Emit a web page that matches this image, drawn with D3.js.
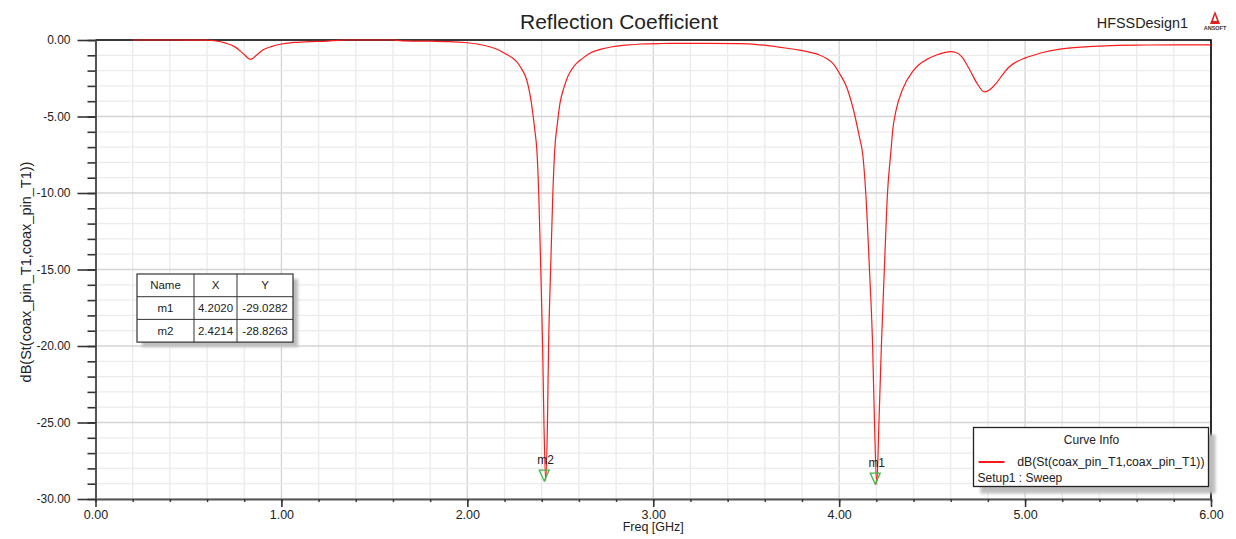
<!DOCTYPE html>
<html>
<head>
<meta charset="utf-8">
<script src="https://cdn.jsdelivr.net/npm/d3@7"></script>
<style>
  body { margin: 0; background: #fff; }
  svg { display: block; font-family: "Liberation Sans", Arial, sans-serif; }
</style>
</head>
<body>
<svg id="Vis" width="1236" height="539"></svg>
<script>
/*
* DATA
*/

// sweep points (GHz, dB)
const freq = [0.20, 0.40, 0.60, 0.64, 0.70, 0.75, 0.80, 0.833, 0.87, 0.90, 0.95, 1.00, 1.07, 1.15, 1.25, 1.30, 1.35,
  1.60, 1.65, 1.80, 1.90, 2.00, 2.06, 2.12, 2.16, 2.20, 2.24, 2.265, 2.29, 2.32, 2.345, 2.363, 2.374, 2.384, 2.395,
  2.405, 2.412, 2.4214, 2.431, 2.437, 2.448, 2.460, 2.470, 2.485, 2.498, 2.52, 2.54, 2.56, 2.587, 2.62, 2.659, 2.72,
  2.78, 2.85, 2.93, 3.05, 3.14, 3.30, 3.45, 3.545, 3.60, 3.66, 3.72, 3.787, 3.85, 3.894, 3.93, 3.966, 4.002, 4.04,
  4.073, 4.109, 4.127, 4.143, 4.163, 4.180, 4.190, 4.2020, 4.214, 4.227, 4.243, 4.260, 4.279, 4.288, 4.306, 4.342,
  4.396, 4.43, 4.467, 4.52, 4.566, 4.60, 4.628, 4.66, 4.70, 4.74, 4.781, 4.81, 4.843, 4.88, 4.915, 4.95, 4.995,
  5.05, 5.112, 5.22, 5.398, 5.596, 5.80, 6.00];

const s11 = [0, 0, -0.01, -0.05, -0.2, -0.45, -0.95, -1.27, -0.95, -0.66, -0.42, -0.26, -0.16, -0.1, -0.07, -0.02, 0,
  0, -0.06, -0.08, -0.1, -0.18, -0.28, -0.44, -0.6, -0.87, -1.15, -1.42, -1.85, -2.63, -4.16, -5.9, -7.2, -10, -15,
  -20, -25, -28.83, -25, -20, -15, -10, -7.2, -5.4, -4.16, -3.1, -2.4, -1.95, -1.53, -1.2, -0.87, -0.6,
  -0.44, -0.34, -0.26, -0.23, -0.22, -0.22, -0.24, -0.28, -0.34, -0.44, -0.54, -0.66, -0.82, -0.98, -1.2, -1.53, -2.19, -3.07,
  -4.38, -6.35, -7.5, -10, -15, -20, -25, -29.03, -25, -20, -15, -10, -7.2, -5.9, -4.6, -3.2,
  -2.05, -1.6, -1.3, -1.0, -0.82, -0.76, -0.82, -1.1, -1.9, -2.8, -3.39, -3.25, -2.85, -2.25, -1.75, -1.45, -1.2,
  -0.98, -0.77, -0.55, -0.4, -0.33, -0.32, -0.32];

const markerNames = ["m1", "m2"];
const markerFreq = [4.2020, 2.4214];
const markerDb = [-29.0282, -28.8263];

const xMajor = [0, 1, 2, 3, 4, 5, 6];
const yMajor = [0, -5, -10, -15, -20, -25, -30];

const tableHead = ["Name", "X", "Y"];
const curveName = "dB(St(coax_pin_T1,coax_pin_T1))";
const sweepName = "Setup1 : Sweep";


/*
* SETUP
*/

const svg = d3.select("svg#Vis");
const font = 12;

const x = d3.scaleLinear().domain([0, 6]).range([95.5, 1211]);
const y = d3.scaleLinear().domain([0, -30]).range([40, 499]);

// plain hyphen minus like the original plot
const fmt = d => d.toFixed(2);
const fmt4 = d => d.toFixed(4);

const defs = svg.append("defs");
defs.append("filter").attr("id", "blur")
  .append("feGaussianBlur").attr("stdDeviation", 1.4);

const g = {
  grid: svg.append("g"),
  frame: svg.append("g"),
  axes: svg.append("g"),
  curve: svg.append("g"),
  markers: svg.append("g"),
  table: svg.append("g"),
  legend: svg.append("g"),
  labels: svg.append("g")
};


/*
* GRID
*/

const xMinor = x.ticks(30);
const yMinor = y.ticks(30);

g.grid.selectAll("line.vx")
  .data(xMinor)
  .join("line")
    .attr("x1", d => x(d)).attr("x2", d => x(d))
    .attr("y1", y(0)).attr("y2", y(-30))
    .attr("stroke", d => xMajor.includes(Math.round(d * 10) / 10) ? "#d4d4d4" : "#ebebeb")
    .attr("stroke-width", 1.3);

g.grid.selectAll("line.hy")
  .data(yMinor)
  .join("line")
    .attr("y1", d => y(d)).attr("y2", d => y(d))
    .attr("x1", x(0)).attr("x2", x(6))
    .attr("stroke", d => yMajor.includes(d) ? "#d4d4d4" : "#ebebeb")
    .attr("stroke-width", 1.3);


/*
* FRAME + AXES
*/

g.frame.append("path")
  .attr("d", `M${x(0)},${y(0)}H${x(6)}V${y(-30)}`)
  .attr("fill", "none")
  .attr("stroke", "#000")
  .attr("stroke-width", 1.6);

// y axis: minor then major ticks
g.axes.append("g")
  .attr("transform", `translate(${x(0)},0)`)
  .call(d3.axisLeft(y).tickValues(yMinor).tickSize(8).tickSizeOuter(0).tickFormat(""))
  .call(a => a.selectAll("line").attr("stroke", "#333").attr("stroke-width", 1.6))
  .call(a => a.select(".domain").attr("stroke", "#555").attr("stroke-width", 2));

g.axes.append("g")
  .attr("transform", `translate(${x(0)},0)`)
  .call(d3.axisLeft(y).tickValues(yMajor).tickSize(18).tickSizeOuter(0).tickPadding(7).tickFormat(fmt))
  .call(a => a.select(".domain").remove())
  .call(a => a.selectAll("line").attr("stroke", "#333").attr("stroke-width", 1.6))
  .call(a => a.selectAll("text").attr("font-size", font).attr("fill", "#222")
    .attr("font-family", "Liberation Sans, Arial, sans-serif"));

// x axis
g.axes.append("g")
  .attr("transform", `translate(0,${y(-30)})`)
  .call(d3.axisBottom(x).tickValues(xMinor).tickSize(3).tickSizeOuter(0).tickFormat(""))
  .call(a => a.selectAll("line").attr("stroke", "#333").attr("stroke-width", 1.4))
  .call(a => a.select(".domain").attr("stroke", "#555").attr("stroke-width", 2));

g.axes.append("g")
  .attr("transform", `translate(0,${y(-30)})`)
  .call(d3.axisBottom(x).tickValues(xMajor).tickSize(8).tickSizeOuter(0).tickPadding(3).tickFormat(fmt))
  .call(a => a.select(".domain").remove())
  .call(a => a.selectAll("line").attr("stroke", "#333").attr("stroke-width", 1.6))
  .call(a => a.selectAll("text").attr("font-size", font + 0.5).attr("fill", "#222")
    .attr("font-family", "Liberation Sans, Arial, sans-serif"));


/*
* CURVE
*/

const line = d3.line()
  .x(d => x(d[0]))
  .y(d => y(d[1]))
  .curve(d3.curveMonotoneX);

g.curve.append("path")
  .datum(d3.zip(freq, s11))
  .attr("d", line)
  .attr("fill", "none")
  .attr("stroke", "#ff1a1a")
  .attr("stroke-width", 1.2);


/*
* MARKERS
*/

const markers = d3.zip(markerNames, markerFreq, markerDb);

g.markers.selectAll("path")
  .data(markers)
  .join("path")
    .attr("d", d => {
      const mx = x(d[1]) - 1.5, my = y(d[2]);
      return `M${mx},${my}L${mx - 5},${my - 11}L${mx + 5},${my - 11}Z`;
    })
    .attr("fill", "none")
    .attr("stroke", "#45b845")
    .attr("stroke-width", 1.3);

g.markers.selectAll("text")
  .data(markers)
  .join("text")
    .attr("x", d => x(d[1]))
    .attr("y", d => y(d[2]) - 17)
    .attr("text-anchor", "middle")
    .attr("font-size", font)
    .attr("fill", "#222")
    .text(d => d[0]);


/*
* MARKER TABLE
*/

const tbl = { x: 137, y: 274, cols: [0, 57, 100, 156], rowH: 22.7 };
const rows = [tableHead].concat(markers.map(d => [d[0], fmt4(d[1]), fmt4(d[2])]));
const tblW = tbl.cols[3], tblH = tbl.rowH * rows.length;

g.table.attr("transform", `translate(${tbl.x},${tbl.y})`);
g.table.append("rect")
  .attr("x", 5).attr("y", 5).attr("width", tblW).attr("height", tblH)
  .attr("fill", "#bdbdbd").attr("filter", "url(#blur)");
g.table.append("rect")
  .attr("width", tblW).attr("height", tblH)
  .attr("fill", "#fff").attr("stroke", "#333").attr("stroke-width", 1.2);

rows.forEach((r, i) => {
  if (i > 0) {
    g.table.append("line")
      .attr("x1", 0).attr("x2", tblW).attr("y1", i * tbl.rowH).attr("y2", i * tbl.rowH)
      .attr("stroke", "#333").attr("stroke-width", 1);
  }
  r.forEach((c, j) => {
    g.table.append("text")
      .attr("x", (tbl.cols[j] + tbl.cols[j + 1]) / 2)
      .attr("y", i * tbl.rowH + tbl.rowH / 2 + 4)
      .attr("text-anchor", "middle")
      .attr("font-size", 11.5)
      .attr("fill", "#222")
      .text(c);
  });
});
[1, 2].forEach(j => {
  g.table.append("line")
    .attr("x1", tbl.cols[j]).attr("x2", tbl.cols[j]).attr("y1", 0).attr("y2", tblH)
    .attr("stroke", "#333").attr("stroke-width", 1);
});


/*
* CURVE INFO LEGEND
*/

g.legend.attr("transform", "translate(973.5,427.5)");
g.legend.append("rect")
  .attr("x", 7).attr("y", 7).attr("width", 235).attr("height", 59)
  .attr("fill", "#bdbdbd").attr("filter", "url(#blur)");
g.legend.append("rect")
  .attr("width", 235).attr("height", 59)
  .attr("fill", "#fff").attr("stroke", "#222").attr("stroke-width", 1.3);
g.legend.append("text")
  .attr("x", 118).attr("y", 16.5)
  .attr("text-anchor", "middle").attr("font-size", font).attr("fill", "#222")
  .text("Curve Info");
g.legend.append("line")
  .attr("x1", 5).attr("x2", 31).attr("y1", 34.5).attr("y2", 34.5)
  .attr("stroke", "#ff1a1a").attr("stroke-width", 2);
g.legend.append("text")
  .attr("x", 231).attr("y", 38.5)
  .attr("text-anchor", "end").attr("font-size", 12.3).attr("fill", "#222")
  .text(curveName);
g.legend.append("text")
  .attr("x", 4).attr("y", 54.5)
  .attr("font-size", font).attr("fill", "#222")
  .text(sweepName);


/*
* TITLES
*/

g.labels.append("text")
  .attr("x", 619).attr("y", 29)
  .attr("text-anchor", "middle").attr("font-size", 21).attr("fill", "#222")
  .text("Reflection Coefficient");

g.labels.append("text")
  .attr("x", 1188).attr("y", 28)
  .attr("text-anchor", "end").attr("font-size", 14.4).attr("fill", "#222")
  .text("HFSSDesign1");

g.labels.append("text")
  .attr("x", (x(0) + x(6)) / 2).attr("y", 531)
  .attr("text-anchor", "middle").attr("font-size", 12.5).attr("fill", "#222")
  .text("Freq [GHz]");

g.labels.append("text")
  .attr("transform", "translate(31,272) rotate(-90)")
  .attr("text-anchor", "middle").attr("font-size", 14.5).attr("fill", "#222")
  .text(curveName);

/* Ansoft logo */
const logo = g.labels.append("g").attr("transform", "translate(1215,0)");
logo.append("path").attr("d", "M0,11L-5,24H5Z").attr("fill", "#e02020");
logo.append("path").attr("d", "M0,15L-2,21H2Z").attr("fill", "#fff");
logo.append("text")
  .attr("x", 0).attr("y", 30)
  .attr("text-anchor", "middle").attr("font-size", 5.5).attr("font-weight", "bold").attr("fill", "#333")
  .text("ANSOFT");
</script>
</body>
</html>
